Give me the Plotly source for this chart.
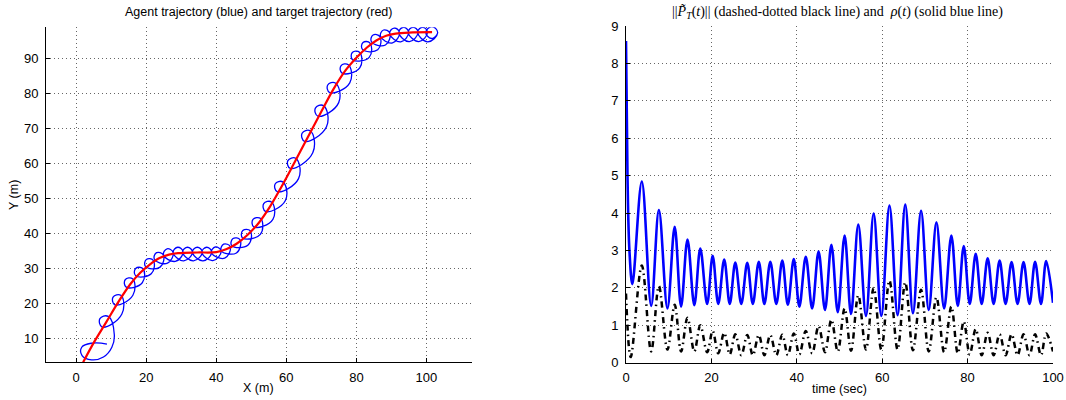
import numpy as np
import plotly.graph_objects as go

# ---------------- left panel: target (red) path ----------------
target_x = [2.0, 5.2, 8.6, 12.2, 15.5, 18.3, 21.1, 23.8, 26.5, 29.1, 34.6, 40.0, 42.8, 45.8,
            48.9, 52.0, 55.2, 58.5, 62.1, 66.2, 70.0, 73.5, 77.0, 80.2, 83.1, 85.8, 88.5,
            91.2, 95.0, 101.6]
target_y = [3.1, 9.0, 14.6, 20.6, 25.5, 28.7, 31.1, 32.9, 33.9, 34.3, 34.5, 34.6, 35.4, 37.0,
            39.5, 42.8, 47.4, 53.1, 59.8, 67.6, 74.8, 81.3, 86.7, 90.4, 93.2, 95.2, 96.5,
            97.1, 97.4, 97.5]

# ---------------- left panel: agent (blue) path ----------------
# initial manoeuvre before the first small loop
start_x = [8.8, 4.6, 1.6, 1.7, 4.4, 7.8, 10.2, 10.9]
start_y = [8.3, 8.6, 7.4, 5.0, 3.8, 4.6, 7.4, 11.0]
# small loops (centres and radii) read along the path
loop_cx = [8.3, 11.9, 15.2, 18.0, 20.9, 23.6, 26.3, 29.1, 31.8, 34.6, 37.3, 40.0, 42.7, 45.6,
           48.6, 51.7, 54.9, 58.2, 61.9, 66.0, 69.8, 73.2, 76.8, 79.9, 82.8, 85.5, 88.2,
           90.9, 93.5, 96.2, 98.9, 101.5]
loop_cy = [14.7, 20.9, 25.8, 28.9, 31.4, 33.2, 34.2, 34.6, 34.6, 34.6, 34.6, 34.7, 35.6, 37.3,
           39.7, 43.0, 47.6, 53.3, 60.0, 67.8, 75.0, 81.6, 87.0, 90.7, 93.5, 95.5, 96.8,
           97.3, 97.5, 97.5, 97.5, 97.4]
loop_r = [1.75, 1.6, 1.5, 1.45, 1.4, 1.4, 1.4, 1.4, 1.4, 1.4, 1.4, 1.4, 1.4, 1.45,
          1.5, 1.55, 1.6, 1.6, 1.65, 1.7, 1.7, 1.6, 1.5, 1.45, 1.4, 1.4, 1.4,
          1.4, 1.4, 1.4, 1.4, 1.7]
# depth of the large arcs between consecutive loops (right-hand side)
bulge_depth = [3.0, 2.8, 2.7, 2.6, 2.6, 2.5, 2.5, 2.5, 2.5, 2.5, 2.5, 2.5, 2.6, 2.7,
               2.9, 3.1, 3.3, 3.5, 3.6, 3.6, 3.5, 3.3, 3.0, 2.9, 2.8, 2.7, 2.7,
               2.7, 2.7, 2.7, 2.7]

# ---------------- right panel ----------------
rho_t = [0, 0.35, 0.8, 1.5, 3.7, 5.9, 7.7, 9.7, 11.4, 12.9, 14.4, 16.0, 17.4, 19.0, 20.3, 21.6,
         23.0, 24.3, 25.6, 27.0, 28.4, 29.7, 31.1, 32.4, 33.8, 35.2, 36.6, 37.9, 39.3, 40.6,
         42.1, 43.6, 45.1, 46.6, 48.1, 49.6, 51.2, 52.7, 54.4, 56.2, 58.0, 59.8, 61.7, 63.6,
         65.4, 67.2, 69.1, 70.9, 72.7, 74.5, 76.2, 77.7, 79.1, 80.5, 81.9, 83.3, 84.7, 86.1,
         87.5, 88.9, 90.3, 91.7, 93.1, 94.5, 95.8, 97.2, 98.4, 100]
rho_v = [8.6, 5.0, 3.0, 2.1, 4.84, 1.52, 4.08, 1.45, 3.63, 1.50, 3.29, 1.54, 3.05, 1.57, 2.86, 1.57,
         2.76, 1.57, 2.68, 1.57, 2.67, 1.57, 2.70, 1.57, 2.70, 1.57, 2.73, 1.55, 2.77, 1.50,
         2.83, 1.45, 2.97, 1.41, 3.15, 1.35, 3.40, 1.30, 3.69, 1.25, 3.99, 1.25, 4.20, 1.27,
         4.23, 1.32, 4.06, 1.41, 3.75, 1.45, 3.40, 1.52, 3.12, 1.57, 2.91, 1.57, 2.79, 1.57,
         2.73, 1.57, 2.69, 1.57, 2.69, 1.57, 2.70, 1.57, 2.72, 1.60]

err_t = [0, 1.1, 3.7, 5.9, 7.7, 9.7, 11.4, 12.9, 14.4, 16.0, 17.4, 19.0, 20.3, 21.6, 23.0, 24.3,
         25.6, 27.0, 28.4, 29.7, 31.1, 32.4, 33.8, 35.2, 36.6, 37.9, 39.3, 40.6, 42.1, 43.6,
         45.1, 46.6, 48.1, 49.6, 51.2, 52.7, 54.4, 56.2, 58.0, 59.8, 61.7, 63.6, 65.4, 67.2,
         69.1, 70.9, 72.7, 74.5, 76.2, 77.7, 79.1, 80.5, 81.9, 83.3, 84.7, 86.1, 87.5, 88.9,
         90.3, 91.7, 93.1, 94.5, 95.8, 97.2, 98.4, 100]
err_v = [1.85, 0.15, 2.6, 0.3, 2.05, 0.35, 1.55, 0.3, 1.2, 0.3, 1.0, 0.28, 0.85, 0.25, 0.8, 0.22,
         0.76, 0.2, 0.74, 0.2, 0.74, 0.2, 0.74, 0.2, 0.75, 0.2, 0.78, 0.22, 0.85, 0.25,
         0.98, 0.28, 1.15, 0.3, 1.45, 0.32, 1.8, 0.35, 2.0, 0.35, 2.2, 0.35, 2.15, 0.33,
         1.95, 0.3, 1.75, 0.28, 1.5, 0.25, 1.1, 0.22, 0.9, 0.2, 0.8, 0.2, 0.76, 0.2,
         0.76, 0.2, 0.76, 0.2, 0.76, 0.2, 0.78, 0.3]

xticks_left = [0, 20, 40, 60, 80, 100]
yticks_left = [10, 20, 30, 40, 50, 60, 70, 80, 90]
xticks_right = [0, 20, 40, 60, 80, 100]
yticks_right = [0, 1, 2, 3, 4, 5, 6, 7, 8, 9]

# ---------- build agent path through loop key points ----------
cx = np.array(loop_cx, float)
cy = np.array(loop_cy, float)
n = len(cx)
ax_pts = list(start_x)
ay_pts = list(start_y)
for k in range(n):
    if k == 0:
        d = np.array([cx[1] - cx[0], cy[1] - cy[0]])
    elif k == n - 1:
        d = np.array([cx[k] - cx[k - 1], cy[k] - cy[k - 1]])
    else:
        d = np.array([cx[k + 1] - cx[k - 1], cy[k + 1] - cy[k - 1]])
    u = d / np.hypot(*d)
    w = np.array([-u[1], u[0]])
    c = np.array([cx[k], cy[k]])
    r = loop_r[k]
    for p in (c + r * u, c + r * w, c - r * u):
        ax_pts.append(p[0]); ay_pts.append(p[1])
    if k < n - 1:
        seg = np.array([cx[k + 1] - cx[k], cy[k + 1] - cy[k]])
        us = seg / np.hypot(*seg)
        ws = np.array([-us[1], us[0]])
        p = c + 0.6 * seg - bulge_depth[k] * ws
        ax_pts.append(p[0]); ay_pts.append(p[1])
    else:
        for p in (c - r * w, c + 0.9 * r * u - 0.3 * r * w):
            ax_pts.append(p[0]); ay_pts.append(p[1])

fig = go.Figure()
fig.add_trace(go.Scatter(x=ax_pts, y=ay_pts, mode="lines",
                         line=dict(color="#0000ff", width=1.3, shape="spline", smoothing=1.3),
                         xaxis="x", yaxis="y", showlegend=False, hoverinfo="skip"))
fig.add_trace(go.Scatter(x=target_x, y=target_y, mode="lines",
                         line=dict(color="#ff0000", width=2.2, shape="spline", smoothing=1.0),
                         xaxis="x", yaxis="y", showlegend=False, hoverinfo="skip"))
fig.add_trace(go.Scatter(x=err_t, y=err_v, mode="lines",
                         line=dict(color="#000000", width=2.5, shape="spline", smoothing=1.0,
                                   dash="6px,4px,1.5px,4px"),
                         xaxis="x2", yaxis="y2", showlegend=False, hoverinfo="skip"))
fig.add_trace(go.Scatter(x=rho_t, y=rho_v, mode="lines",
                         line=dict(color="#0000ff", width=2.6, shape="spline", smoothing=1.0),
                         xaxis="x2", yaxis="y2", showlegend=False, hoverinfo="skip"))

W, H = 1066, 400
axis_common = dict(showline=True, linecolor="black", linewidth=1, mirror=False,
                   ticks="inside", ticklen=4, tickcolor="black", automargin=False,
                   showgrid=True, gridcolor="rgba(0,0,0,0.6)", gridwidth=1, griddash="1px,3px",
                   zeroline=False, tickfont=dict(family="Liberation Sans", size=13, color="black"))

fig.update_layout(
    width=W, height=H, autosize=False,
    margin=dict(l=0, r=0, t=0, b=0),
    paper_bgcolor="white", plot_bgcolor="white",
    font=dict(family="Liberation Sans", size=13, color="black"),
    xaxis=dict(domain=[46 / W, 472 / W], range=[-8.6, 113.0], tickvals=xticks_left,
               anchor="y", ticklabelstandoff=3, **axis_common),
    yaxis=dict(domain=[(H - 362.3) / H, (H - 27.3) / H], range=[3.1, 98.9], tickvals=yticks_left,
               anchor="x", ticklabelstandoff=4, **axis_common),
    xaxis2=dict(domain=[626 / W, 1053 / W], range=[0, 100], tickvals=xticks_right,
                anchor="y2", ticklabelstandoff=3, **axis_common),
    yaxis2=dict(domain=[(H - 362.7) / H, (H - 26) / H], range=[0, 9], tickvals=yticks_right,
                anchor="x2", ticklabelstandoff=4, **axis_common),
)

ann = [
    dict(text="Agent trajectory (blue) and target trajectory (red)", x=258 / W, y=(H - 12) / H,
         font=dict(family="Liberation Sans", size=12.5)),
    dict(text="X (m)", x=258 / W, y=(H - 388) / H, font=dict(family="Liberation Sans", size=12.5)),
    dict(text="Y (m)", x=14 / W, y=(H - 195) / H, textangle=-90,
         font=dict(family="Liberation Sans", size=12.5)),
    dict(text="||<i>P̃</i><sub><i>T</i></sub>(<i>t</i>)|| (dashed-dotted black line) and  "
              "<i>ρ</i>(<i>t</i>) (solid blue line)",
         x=837 / W, y=(H - 12) / H, font=dict(family="Liberation Serif", size=14)),
    dict(text="time (sec)", x=839 / W, y=(H - 389) / H, font=dict(family="Liberation Sans", size=12.5)),
]
for a in ann:
    a.update(xref="paper", yref="paper", showarrow=False, xanchor="center", yanchor="middle")
fig.update_layout(annotations=ann)

fig.write_html("out.html", config={"displayModeBar": False, "staticPlot": True},
               post_script="document.body.style.margin='0';document.body.style.overflow='hidden';")
